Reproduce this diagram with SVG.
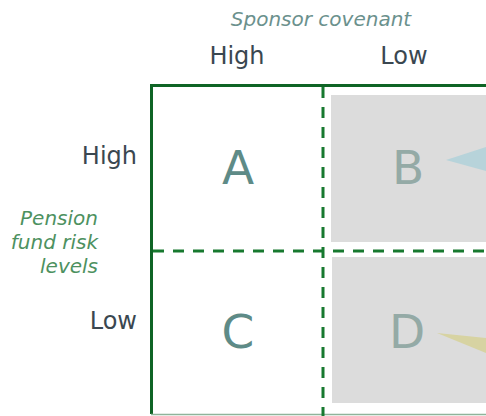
<svg xmlns="http://www.w3.org/2000/svg" width="486" height="416" viewBox="0 0 486 416">
<style>
.lbl{font-family:"DejaVu Sans",Verdana,sans-serif;font-size:24px;fill:#3a4750}
.ax{font-family:"DejaVu Sans",Verdana,sans-serif;font-size:20px;font-style:italic}
.big{font-family:"DejaVu Sans",Verdana,sans-serif;font-size:47px;text-anchor:middle}
.dash{stroke:#17792f;stroke-width:3;stroke-dasharray:11 9;fill:none}
</style>
<rect width="486" height="416" fill="#fff"/>
<text class="ax" x="321" y="26" text-anchor="middle" fill="#6b918d">Sponsor covenant</text>
<text class="lbl" x="237" y="64" text-anchor="middle">High</text>
<text class="lbl" x="404" y="64" text-anchor="middle">Low</text>
<text class="lbl" x="137" y="164" text-anchor="end">High</text>
<text class="lbl" x="137" y="329" text-anchor="end">Low</text>
<g class="ax" fill="#4d9160" text-anchor="end">
<text x="98" y="225">Pension</text>
<text x="98" y="249">fund risk</text>
<text x="98" y="273">levels</text>
</g>
<g id="nodeB">
<rect x="331" y="95" width="160" height="147" fill="#dcdcdc"/>
<polygon points="446,160 486,147 486,171" fill="#b7d3da"/>
<text class="big" x="408" y="184" fill="#94aaa6">B</text>
</g>
<g id="nodeD">
<rect x="332" y="257" width="160" height="146" fill="#dcdcdc"/>
<polygon points="437,333 486,338 486,353" fill="#d7d3a2"/>
<text class="big" x="407" y="348" fill="#94aaa6">D</text>
</g>
<g id="nodeA"><text class="big" x="238" y="184" fill="#5e8b87">A</text></g>
<g id="nodeC"><text class="big" x="238" y="348" fill="#5e8b87">C</text></g>
<g id="connectors">
<path d="M151.5,414 V85.5 H490" fill="none" stroke="#0f6425" stroke-width="3"/>
<line x1="151" y1="414.5" x2="490" y2="414.5" stroke="#8fb49a" stroke-width="1.5"/>
<line class="dash" x1="323" y1="87" x2="323" y2="416"/>
<line class="dash" x1="153" y1="251" x2="490" y2="251"/>
</g>
</svg>
